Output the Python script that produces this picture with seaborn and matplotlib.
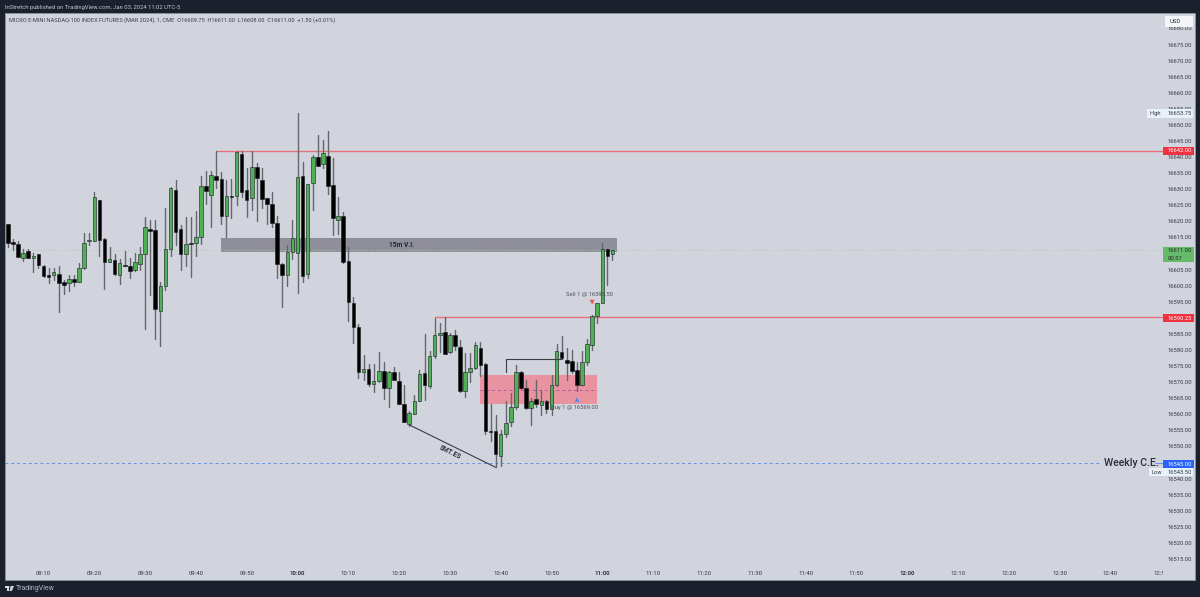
import numpy as np
import pandas as pd
import seaborn as sns
import matplotlib
matplotlib.use("Agg")
import matplotlib.pyplot as plt
from matplotlib.patches import Rectangle, Polygon, Circle
from matplotlib.transforms import Bbox

# ---------- data: 1 minute bars, minutes after 09:00 ----------
first_minute = 3
opens = [16619.25,16613.5,16613,16608.75,16610.75,16608.5,16609.75,16606.25,16603.25,16603.25,
 16603.75,16601.25,16600.75,16602,16601.25,16605.5,16613.75,16614,16626.75,16614.5,
 16607.5,16608,16603.25,16606.5,16606.25,16604.75,16606.75,16609.75,16617.75,16617.25,
 16592.25,16600,16611.5,16629.75,16617.5,16609.75,16613.25,16613.25,16615,16631,
 16628.25,16634,16633.25,16621.75,16627.75,16627.75,16641,16629.75,16627.25,16637,
 16632.75,16627.25,16625.5,16619.5,16606.75,16603.25,16610.5,16610.25,16634,16603.5,
 16632,16640,16637.75,16640.25,16631.25,16620.5,16621.75,16607.75,16594.5,16587,
 16573,16574,16569.5,16570.25,16573.5,16568.25,16573.25,16570.25,16563.25,16557,
 16560,16564.25,16572.75,16568.75,16578,16584.5,16585.5,16579.25,16584.75,16581,
 16567.25,16573,16574.5,16580.75,16575.5,16554.75,16554.75,16547,16553.75,16557.5,
 16562.25,16573.25,16568.25,16562,16564.75,16562.75,16564.25,16561.75,16569,16579.25,
 16577,16576.5,16573.75,16569.25,16576.25,16581.5,16590.5,16594.75,16611.5,16609.75]
highs = [16619.25,16614.5,16613.75,16611.5,16611.5,16610.25,16610,16606.5,16605.5,16605.5,
 16606.25,16601.75,16603.25,16603.25,16607,16616.25,16616.25,16629,16626.75,16614.75,
 16612,16610,16608.25,16610.75,16608.5,16610.25,16612,16621.5,16620.5,16620.5,
 16601,16624,16630.75,16632.75,16618.75,16621.5,16621.5,16623.25,16634,16635.75,
 16635.75,16642,16635.25,16632.75,16633.25,16641.75,16641.75,16636.5,16641.75,16638,
 16636.5,16627.25,16629,16621.75,16607,16612.75,16620.5,16653.75,16638.5,16631.75,
 16640.75,16646.75,16645.25,16648.25,16639.75,16627.5,16623,16612,16596.5,16588,
 16578.5,16575.75,16575.75,16579.25,16576.25,16573.5,16574.75,16573.25,16569,16561,
 16566,16573.75,16585,16579.75,16590,16588.25,16590.25,16585.25,16586.25,16583.25,
 16579,16579,16582.5,16582.5,16576,16563.25,16559.75,16555,16564,16566.75,
 16575.25,16573.5,16570.75,16565,16570.75,16567.5,16564.5,16572.25,16582,16584.25,
 16580.75,16580,16576.25,16579.75,16583.5,16591,16594.75,16613.25,16611.5,16611]
lows = [16612,16611,16609,16607.75,16608.5,16604.25,16605.5,16602.75,16600.75,16601.75,
 16591.75,16597.5,16598.25,16600,16601,16605.25,16612.75,16613.75,16609.25,16599,
 16607.25,16603.25,16600.5,16606,16602.5,16604.5,16605,16586.5,16597,16583.5,
 16581.25,16598.75,16609.25,16612.5,16604.75,16606.25,16602.75,16609.25,16613,16625.5,
 16618.25,16630.5,16619.25,16615.25,16621,16625,16627.5,16621.25,16623.5,16620,
 16624,16619.25,16618.25,16602.25,16593.25,16599.75,16608.25,16597.75,16601,16602.25,
 16623.5,16637.25,16636.5,16628.5,16615.75,16616,16607,16589,16582.25,16571.25,
 16570.75,16568.75,16567,16570,16564.75,16562.25,16570.75,16563.25,16557.5,16556.25,
 16560,16564.25,16564.5,16568.25,16577.5,16579.5,16578.75,16579,16580,16567,
 16565.25,16570,16574,16572,16553.75,16551.75,16543.5,16544,16553,16556.25,
 16561.75,16567.75,16561.75,16556.75,16562.25,16559.75,16560.5,16559.75,16568.75,16577.5,
 16570.75,16572.75,16567.25,16569,16575.25,16580,16588.25,16594.75,16600.25,16608]
closes = [16613.25,16613,16609,16610.25,16608.75,16609.25,16606.5,16603,16602.75,16604.25,
 16600.75,16600.25,16602,16601.25,16605.5,16613.25,16614.25,16627.5,16614.25,16607.25,
 16608.25,16603.5,16607,16606,16604.5,16607.25,16609.75,16618.25,16617,16592.75,
 16599.75,16611.5,16630.5,16616.75,16610,16613,16613,16615.25,16631,16629.5,
 16634.5,16632.75,16621.75,16627.75,16627.5,16641.5,16629.25,16626.75,16637,16633.5,
 16627,16625.25,16619.5,16606.75,16603.25,16610.5,16614.75,16633.75,16603,16631.5,
 16640,16637.25,16641.25,16631,16621,16621.75,16607.25,16595,16587,16573.25,
 16574,16569.5,16570.5,16573.5,16568.25,16573.25,16570.75,16563.25,16557.5,16560.25,
 16564.25,16572.5,16569,16578,16584.75,16585.25,16578.75,16584.75,16581.25,16567.25,
 16573,16574.25,16581.5,16575.25,16554.75,16554.5,16547.75,16554,16557.25,16562.25,
 16573.25,16568.25,16562,16564.25,16563.25,16564,16561.5,16569,16579.75,16577.5,
 16576,16573.5,16569,16576.25,16581.75,16590.5,16594.75,16611.5,16609.25,16611]

time_ticks = [10,20,30,40,50,60,70,80,90,100,110,120,130,140,150,160,170,180,190,200,210,220,230]
time_labels = ["09:10","09:20","09:30","09:40","09:50","10:00","10:10","10:20","10:30","10:40","10:50",
 "11:00","11:10","11:20","11:30","11:40","11:50","12:00","12:10","12:20","12:30","12:40","12:50"]
price_ticks = [16515,16520,16525,16530,16535,16540,16545,16550,16555,16560,16565,16570,16575,16580,
 16585,16590,16595,16600,16605,16610,16615,16620,16625,16630,16635,16640,16645,16650,16655,16660,
 16665,16670,16675,16680]

level_upper = 16642.0
level_lower = 16590.25
level_weekly = 16545.0
last_price = 16611.0
vi_box = (44.95, 122.9, 16610.5, 16614.8, 16612.6)      # t0, t1, low, high, mid
fvg_box = (95.9, 118.9, 16563.2, 16572.2, 16567.7)
smt_line = ([82, 99], [16556.7, 16543.5])
path_line = ([101, 101, 112], [16573.3, 16577.3, 16577.3])

# ---------- colours ----------
FRAME = "#1b202d"
PANEL = "#d1d4dc"
INK = "#33373f"
GREEN = "#4fb055"
WICK = "#64676e"

sns.set_theme(style="white")
plt.rcParams["font.family"] = ["Roboto", "DejaVu Sans"]

fig = plt.figure(figsize=(12, 5.97), dpi=100, facecolor=FRAME)
W, H = 1200.0, 597.0
T = fig.transFigure


def fx(x):
    return x / W


def fy(y):
    return 1 - y / H


fig.patches.append(Rectangle((fx(5), fy(580)), 1190 / W, 567 / H, transform=T, facecolor=PANEL,
                             edgecolor="#8f929b", lw=0.6, zorder=-1))

ax = fig.add_axes([fx(5), fy(567), 1158 / W, 554 / H], facecolor="none")

frame = pd.DataFrame({"t": np.arange(first_minute, first_minute + len(opens)),
                      "open": opens, "high": highs, "low": lows, "close": closes})
frame["up"] = frame["close"] >= frame["open"]
frame["bottom"] = frame[["open", "close"]].min(axis=1)
frame["size"] = (frame["close"] - frame["open"]).abs().clip(lower=0.25)

# level boxes and lines below the candles
for (t0, t1, lo, hi, mid), col, dash in ((vi_box, "#8e9099", "#a680b8"), (fvg_box, "#e8939f", "#a85fa8")):
    ax.add_patch(Rectangle((t0, lo), t1 - t0, hi - lo, facecolor=col, edgecolor="none", zorder=1))
    ax.plot([t0, t1], [mid, mid], color=dash, lw=0.7, ls=(0, (3, 3)), zorder=1.2)

ax.plot([44, 230.4], [level_upper, level_upper], color="#e5707c", lw=1.0, zorder=1.5)
ax.plot([87, 230.4], [level_lower, level_lower], color="#e5707c", lw=1.0, zorder=1.5)
ax.plot([2.4, 218], [level_weekly, level_weekly], color="#6590e6", lw=0.7, ls=(0, (3, 3)), zorder=1.5)
ax.plot([228.8, 230.4], [level_weekly, level_weekly], color="#6590e6", lw=0.7, zorder=1.5)
ax.plot([2.4, 230.4], [last_price, last_price], color="#a5cdb0", lw=0.7, ls=(0, (1, 2)), zorder=1.5)

# wicks
wicks = pd.concat([frame[["t", "high"]].rename(columns={"high": "price"}),
                   frame[["t", "low"]].rename(columns={"low": "price"})])
sns.lineplot(data=wicks, x="t", y="price", units="t", estimator=None, color=WICK, lw=1.0,
             ax=ax, legend=False, zorder=2)

# bodies
for flag, col in ((True, GREEN), (False, "#000000")):
    sub = frame[frame["up"] == flag]
    sns.barplot(data=sub, x="t", y="size", native_scale=True, orient="x", errorbar=None,
                bottom=sub["bottom"].to_numpy(), color=col, saturation=1, width=0.7,
                edgecolor="#1a1c20", linewidth=0.4, ax=ax, zorder=3)

# drawings
ax.plot(smt_line[0], smt_line[1], color="#3a3d45", lw=0.8, zorder=4)
ax.plot(path_line[0], path_line[1], color="#3a3d45", lw=0.8, zorder=4)
ax.text(90, 16548.2, "SMT.ES", fontsize=4.8, fontweight="bold", color="#2a2e39", rotation=-26,
        ha="center", va="center", rotation_mode="anchor", zorder=5)
ax.text(80.5, 16612.7, "15m V.I.", fontsize=4.8, fontweight="bold", color="#23262e", ha="center", va="center",
        bbox=dict(facecolor="#8e9099", edgecolor="none", pad=0.8), zorder=5)
ax.text(117.5, 16597.4, "Sell 1 @ 16595.50", fontsize=4.2, color="#4c5058", ha="center", va="center", zorder=5)
ax.text(114.6, 16562.2, "Buy 1 @ 16569.00", fontsize=4.2, color="#4c5058", ha="center", va="center", zorder=5)
ax.annotate("", xy=(118, 16593.2), xytext=(118, 16595.7),
            arrowprops=dict(arrowstyle="simple,head_width=0.3,head_length=0.3,tail_width=0.12", color="#ef5350", lw=0), zorder=5)
ax.annotate("", xy=(115, 16566.2), xytext=(115, 16563.7),
            arrowprops=dict(arrowstyle="simple,head_width=0.3,head_length=0.3,tail_width=0.12", color="#5b8def", lw=0), zorder=5)

# axes
ax.set_xlim(2.42, 230.37)
ax.set_ylim(16512.5, 16684.8)
ax.set_xlabel("")
ax.set_ylabel("")
sns.despine(ax=ax, left=True, bottom=True, top=True, right=True)
ax.grid(False)
ax.yaxis.tick_right()
ax.set_yticks(price_ticks, [f"{p:.2f}" for p in price_ticks])
ax.set_xticks(time_ticks, time_labels)
ax.tick_params(axis="y", length=0, pad=3.6, labelsize=4.15, labelcolor=INK)
ax.tick_params(axis="x", length=0, pad=2.6, labelsize=4.3, labelcolor=INK)
clip = Bbox([[0, 0], [1163, 597]])
for lab in ax.get_xticklabels():
    if lab.get_text().endswith(":00"):
        lab.set_fontweight("bold")
    lab.set_clip_on(True)
    lab.set_clip_box(clip)


def box(x0, y0, x1, y1, col):
    ax.add_patch(Rectangle((fx(x0), fy(y1)), (x1 - x0) / W, (y1 - y0) / H, transform=T, facecolor=col,
                           edgecolor="none", clip_on=False, zorder=8))


def label(x, y, s, col=INK, size=4.15, **kw):
    ax.text(fx(x), fy(y), s, transform=T, color=col, fontsize=size, va="center", clip_on=False, zorder=9, **kw)


box(1165, 16, 1193, 27, "#f4f5f8")
label(1170, 21.5, "USD", col="#2a2e39", size=4.3)
box(1147, 109, 1193, 118, "#e8f1f8")
label(1149, 113.5, "High", size=4.1)
label(1168, 113.5, "16653.75")
box(1163, 147, 1194, 155, "#f0313f")
label(1168, 151, "16642.00", col="white")
box(1163, 247, 1194, 262, "#66bb6a")
label(1168, 251, "16611.00", col="#1f2d22")
label(1168, 258, "00:57", col="#1f2d22")
box(1163, 314, 1194, 322, "#f0313f")
label(1168, 318, "16590.25", col="white")
box(1163, 460, 1194, 468, "#2962ff")
label(1168, 464, "16545.00", col="white")
box(1149, 468, 1193, 476, "#e8f1f8")
label(1151, 472, "Low", size=4.1)
label(1168, 472, "16543.50")
label(1104, 463.5, "Weekly C.E.", col="#2a2e39", size=7.6, fontweight="medium")

# header and footer
label(5, 7, "InStretch published on TradingView.com, Jan 03, 2024 11:02 UTC-5", col="#c4c7d0", size=4.2)
label(9, 20, "MICRO E-MINI NASDAQ-100 INDEX FUTURES (MAR 2024), 1, CME  O16609.75  H16611.00  L16608.00  C16611.00  +1.50 (+0.01%)",
      col="#3a3e46", size=4.1)
label(16, 588.5, "TradingView", col="#b4b7c0", size=5.0)

logo = [Polygon([(fx(a), fy(b)) for a, b in pts], closed=True, transform=T, facecolor="#d8dae0", edgecolor="none")
        for pts in ([(5, 586), (8.6, 586), (8.6, 591), (6.7, 591), (6.7, 588), (5, 588)],
                    [(11.2, 586), (14, 586), (11.7, 591), (9.4, 591)])]
for p in logo:
    fig.patches.append(p)
fig.patches.append(Circle((fx(10.2), fy(587)), 1.0 / W, transform=T, facecolor="#d8dae0", edgecolor="none"))

fig.savefig("out.png", dpi=100, facecolor=fig.get_facecolor())
